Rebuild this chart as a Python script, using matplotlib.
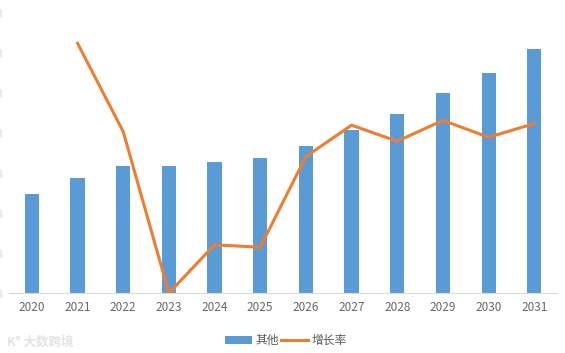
import matplotlib
matplotlib.use("Agg")
import matplotlib.pyplot as plt

plt.rcParams['font.family'] = ['Noto Sans CJK SC', 'DejaVu Sans']

years = ['2020', '2021', '2022', '2023', '2024', '2025', '2026', '2027', '2028', '2029', '2030', '2031']
other = [2.46, 2.86, 3.16, 3.16, 3.26, 3.36, 3.66, 4.05, 4.47, 4.98, 5.47, 6.07]
growth_years = years[1:]
growth = [31.1, 20.1, 0.0, 6.0, 5.7, 17.0, 20.9, 18.9, 21.5, 19.4, 21.1]

fig = plt.figure(figsize=(5.65, 3.53), dpi=100)
ax = fig.add_axes([0.016, 0.170, 0.970, 0.796])

x = list(range(len(years)))
bars = ax.bar(x, other, width=0.31, color='#5B9BD5', label='其他', zorder=2)
ax.set_xlim(-0.5, len(years) - 0.5)
ax.set_ylim(0, 7)
ax.set_xticks(x)
ax.set_xticklabels(years, fontsize=8.5, color='#666666')
ax.set_yticks(range(8))
ax.set_yticklabels(['|'] * 8, fontsize=5, color='#9db3cc')
ax.tick_params(axis='x', length=0, pad=6)
ax.tick_params(axis='y', length=0, pad=5.5)
for s in ['top', 'right', 'left']:
    ax.spines[s].set_visible(False)
ax.spines['bottom'].set_color('#d9d9d9')

# growth rate on a hidden secondary axis
ax2 = ax.twinx()
gx = [years.index(y) for y in growth_years]
line, = ax2.plot(gx, growth, color='#ED7D31', linewidth=2.2, label='增长率', zorder=3)
ax2.set_ylim(0, 35)
ax2.axis('off')

ax.legend([bars, line], ['其他', '增长率'], loc='center', bbox_to_anchor=(0.505, -0.17),
          ncol=2, frameon=False, fontsize=8.5, labelcolor='#595959',
          handlelength=2.3, handleheight=0.6, columnspacing=0.2, handletextpad=0.3)

fig.text(0.012, 0.022, 'K° 大数跨境', fontsize=9, color='#e3e3e3', fontweight='bold')

fig.savefig('out.png', dpi=100)
